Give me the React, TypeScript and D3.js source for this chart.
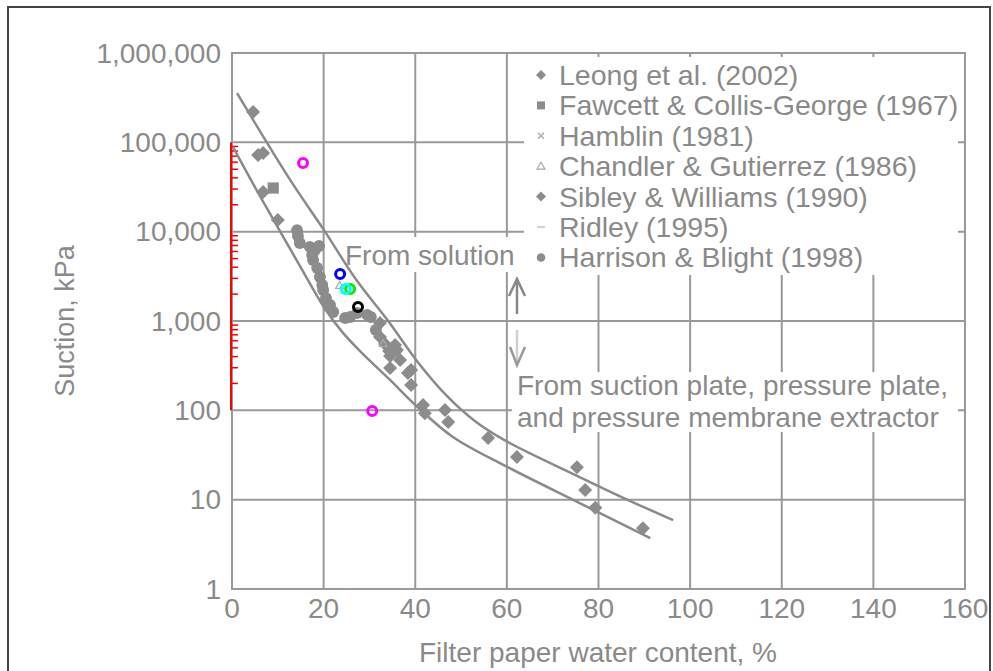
import React from "react";
import * as d3 from "d3";

// ---- data ----
const xTicks = [0, 20, 40, 60, 80, 100, 120, 140, 160];
const yTicks = [1, 10, 100, 1000, 10000, 100000, 1000000];
const yTickLabels = ["1", "10", "100", "1,000", "10,000", "100,000", "1,000,000"];

const legendLabels = [
  "Leong et al. (2002)",
  "Fawcett & Collis-George (1967)",
  "Hamblin (1981)",
  "Chandler & Gutierrez (1986)",
  "Sibley & Williams (1990)",
  "Ridley (1995)",
  "Harrison & Blight (1998)",
];
const legendShapes = ["diamond", "square", "cross", "triangle", "diamond", "plus", "circle"];

// [water content %, suction kPa]
const leongData: [number, number][] = [
  [4.6, 219000], [5.7, 72000], [6.8, 76000], [6.8, 27800], [10.0, 13500],
  [41.7, 115], [42.1, 93], [46.5, 101], [47.2, 74], [55.9, 49], [62.2, 30],
  [75.3, 23], [77.1, 12.8], [79.3, 8.1], [89.7, 4.8],
];
const fawcettData: [number, number][] = [[9.0, 30800]];
const sibleyData: [number, number][] = [
  [32.3, 950], [32.3, 662], [33.4, 553], [34.3, 461], [34.5, 405], [34.5, 298],
  [36.0, 473], [39.1, 283], [39.1, 192], [35.6, 540], [36.7, 366], [38.4, 262],
];
const harrisonData: [number, number][] = [
  [14.2, 10400], [14.4, 8950], [14.8, 7470], [17.0, 6750], [18.1, 6240], [19.0, 6910],
  [17.7, 4820], [18.6, 3920], [19.2, 3110], [19.9, 2220], [21.0, 1470], [22.1, 1260],
  [24.7, 1080], [25.8, 1110], [27.3, 1230], [29.5, 1170], [30.3, 1110],
  [17.5, 5480], [19.7, 2530], [20.5, 1810], [21.4, 1510], [31.4, 793],
];
const chandlerData: [number, number][] = [[33.0, 560], [23.5, 2500]];

const upperCurve: [number, number][] = [
  [1.1, 355000], [12.7, 38000], [20.3, 10000], [27.0, 2950], [34.1, 1000],
  [40.4, 355], [46.9, 145], [53.0, 76], [59.6, 46], [76.0, 17.8],
  [85.4, 10.5], [96.3, 5.9],
];
const lowerCurve: [number, number][] = [
  [0.2, 89000], [5.0, 31600], [10.0, 11200], [15.0, 3980], [20.0, 1445],
  [24.0, 760], [28.0, 457], [34.5, 219], [40.4, 110], [48.3, 50], [60.0, 23.4],
  [76.0, 9.1], [91.3, 3.7],
];

const coloredPoints: { x: number; y: number; color: string }[] = [
  { x: 15.5, y: 58700, color: "#ff00ff" },
  { x: 23.6, y: 3360, color: "#0000ff" },
  { x: 25.8, y: 2280, color: "#00ee00" },
  { x: 24.8, y: 2280, color: "#00ffff" },
  { x: 27.5, y: 1435, color: "#000000" },
  { x: 30.6, y: 98, color: "#ff00ff" },
];

const redAxisDecades = [100, 1000, 10000];

// ---- layout ----
const W = 993;
const H = 671;
const x = d3.scaleLinear().domain([0, 160]).range([232, 965]);
const y = d3.scaleLog().domain([1, 1e6]).range([589, 53]);

const GRAY = "#999999";
const TEXT = "#8a8a8a";
const PT = "#8c8c8c";
const FONT = "'Liberation Sans', Arial, Helvetica, sans-serif";

function marker(shape: string, cx: number, cy: number, s: number, key: string) {
  switch (shape) {
    case "diamond":
      return (
        <path key={key} d={`M${cx},${cy - s}L${cx + s},${cy}L${cx},${cy + s}L${cx - s},${cy}Z`} fill={PT} />
      );
    case "square":
      return <rect key={key} x={cx - s * 0.8} y={cy - s * 0.8} width={s * 1.6} height={s * 1.6} fill={PT} />;
    case "circle":
      return <circle key={key} cx={cx} cy={cy} r={s * 0.85} fill={PT} />;
    case "triangle":
      return (
        <path key={key} d={`M${cx},${cy - s * 0.8}L${cx + s * 0.8},${cy + s * 0.6}L${cx - s * 0.8},${cy + s * 0.6}Z`} fill="none" stroke="#aaa" strokeWidth={1.2} />
      );
    case "cross":
      return (
        <path key={key} d={`M${cx - 3},${cy - 3}L${cx + 3},${cy + 3}M${cx + 3},${cy - 3}L${cx - 3},${cy + 3}`} stroke="#aaa" strokeWidth={1.3} />
      );
    case "plus":
      return <path key={key} d={`M${cx - 4},${cy}L${cx + 4},${cy}`} stroke="#bbb" strokeWidth={1.3} />;
  }
  return null;
}

export default function App() {
  const line = d3
    .line<[number, number]>()
    .x((d) => x(d[0]))
    .y((d) => y(d[1]))
    .curve(d3.curveCatmullRom.alpha(0.5));

  const redTicks: number[] = [];
  redAxisDecades.forEach((dec) => {
    for (let k = 2; k <= 9; k++) redTicks.push(dec * k);
  });

  const legendBaselines = legendLabels.map((_, i) => 85 + i * 30.4);

  return (
    <svg width={W} height={H} style={{ position: "absolute", left: 0, top: 0, background: "#fff" }} fontFamily={FONT}>
      <rect x={0} y={0} width={W} height={H} fill="#fff" />
      {/* outer frame */}
      <rect x={8} y={7} width={982} height={720} fill="none" stroke="#444" strokeWidth={2} />

      {/* grid */}
      {xTicks.slice(1, -1).map((t) => (
        <line key={"vx" + t} x1={x(t)} x2={x(t)} y1={y(1e6)} y2={y(1)} stroke={GRAY} strokeWidth={2} />
      ))}
      {yTicks.slice(1, -1).map((t) => (
        <line key={"hy" + t} x1={x(0)} x2={x(160)} y1={y(t)} y2={y(t)} stroke={GRAY} strokeWidth={2} />
      ))}
      <rect x={x(0)} y={y(1e6)} width={x(160) - x(0)} height={y(1) - y(1e6)} fill="none" stroke={GRAY} strokeWidth={2} />

      {/* white boxes behind annotations */}
      <rect x={524} y={57} width={434} height={218} fill="#fff" />
      <rect x={343} y={237} width={172} height={35} fill="#fff" />
      <rect x={512} y={372} width={446} height={60} fill="#fff" />

      {/* red minor-tick axis */}
      <line x1={231} x2={231} y1={y(100000)} y2={y(100)} stroke="#ff0000" strokeWidth={2} />
      {redTicks.map((t) => (
        <line key={"rt" + t} x1={231} x2={238} y1={y(t)} y2={y(t)} stroke="#ff0000" strokeWidth={1.5} />
      ))}

      {/* curves */}
      <path d={line(upperCurve) || ""} fill="none" stroke="#8a8a8a" strokeWidth={2.5} />
      <path d={line(lowerCurve) || ""} fill="none" stroke="#8a8a8a" strokeWidth={2.5} />

      {/* data points */}
      {leongData.map((d, i) => marker("diamond", x(d[0]), y(d[1]), 7, "l" + i))}
      {fawcettData.map((d, i) => marker("square", x(d[0]), y(d[1]), 7, "f" + i))}
      {sibleyData.map((d, i) => marker("diamond", x(d[0]), y(d[1]), 7, "s" + i))}
      {harrisonData.map((d, i) => marker("circle", x(d[0]), y(d[1]), 7, "h" + i))}
      {chandlerData.map((d, i) => marker("triangle", x(d[0]), y(d[1]), 5, "c" + i))}

      {/* colored hollow circles */}
      {coloredPoints.map((p, i) => (
        <circle key={"cp" + i} cx={x(p.x)} cy={y(p.y)} r={4.5} fill="none" stroke={p.color} strokeWidth={3} />
      ))}

      {/* tick labels */}
      {yTicks.map((t, i) => (
        <text key={"yl" + t} x={221} y={y(t)} dy="0.35em" textAnchor="end" fontSize={28} fill={TEXT}>
          {yTickLabels[i]}
        </text>
      ))}
      {xTicks.map((t) => (
        <text key={"xl" + t} x={x(t)} y={618} textAnchor="middle" fontSize={28} fill={TEXT}>
          {t}
        </text>
      ))}

      {/* axis titles */}
      <text x={598} y={662} textAnchor="middle" fontSize={28} fill={TEXT}>
        Filter paper water content, %
      </text>
      <text transform="translate(74,321) rotate(-90)" textAnchor="middle" fontSize={27} fill={TEXT}>
        Suction, kPa
      </text>

      {/* legend */}
      {legendLabels.map((lab, i) => (
        <g key={"lg" + i}>
          {marker(legendShapes[i], 541, legendBaselines[i] - 10, 5, "lm" + i)}
          <text x={559} y={legendBaselines[i]} fontSize={28.5} fill={TEXT}>
            {lab}
          </text>
        </g>
      ))}

      {/* annotations */}
      <text x={345} y={265} fontSize={28} fill={TEXT}>From solution</text>
      <line x1={517} x2={517} y1={314} y2={279} stroke="#888" strokeWidth={2.5} />
      <path d="M509,296L517,279L525,296" fill="none" stroke="#888" strokeWidth={2.5} />
      <line x1={517} x2={517} y1={330} y2={365} stroke="#d0d0d0" strokeWidth={2.5} />
      <path d="M510,347L517,365L525,347" fill="none" stroke="#999" strokeWidth={2.5} />
      <text x={517} y={395} fontSize={28} fill={TEXT}>From suction plate, pressure plate,</text>
      <text x={517} y={427} fontSize={28} fill={TEXT}>and pressure membrane extractor</text>
    </svg>
  );
}
